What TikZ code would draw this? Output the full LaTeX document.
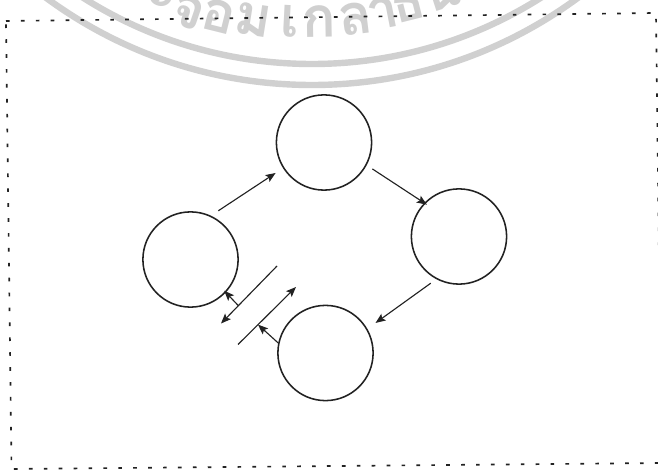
\documentclass[tikz,border=0pt]{standalone}
\usepackage{fontspec}
\usetikzlibrary{arrows.meta, calc}
\newfontfamily\thaifont[Script=Thai]{Loma}
\definecolor{inkgray}{HTML}{222222}
\definecolor{wmgray}{HTML}{D0D0D0}

\begin{document}
\begin{tikzpicture}[x=0.025cm, y=-0.025cm,
  stage/.style={circle, draw=inkgray, line width=1.1pt, minimum size=2.38cm, inner sep=0pt},
  flow/.style={-{Stealth[length=2.5mm, width=2mm, inset=0.5mm]}, draw=inkgray, line width=0.8pt},
  frame/.style={draw=inkgray, line width=1.2pt, dash pattern=on 2.6pt off 8pt},
  wmark/.style={text=wmgray, font=\thaifont\bfseries\fontsize{40}{40}\selectfont, inner sep=0pt, anchor=base},
  wmring/.style={draw=wmgray, line width=1.6mm}]
  \useasboundingbox (0,0) rectangle (658,472);
  \clip (0,0) rectangle (658,472);
  \fill[white] (0,0) rectangle (658,472);

  % --- Watermark (seal arcs and lettering) ---
  \coordinate (wm) at (312,-364);
  \draw[wmring] (wm) circle[radius=449];
  \draw[wmring] (wm) circle[radius=428];
  \foreach \g/\x/\y/\r [count=\i] in {ะ/158/8/-22, จ/183/27/-19, อ/215/32/-14,
      ม/251/35/-9, เ/289/37/-3, ก/320/37/1, ล้/358/34/7, า/386/28/11,
      ธ/412/20/14, น/446/9/18}
    \node[wmark, rotate=\r] (wm\i) at (\x,\y) {\g};

  % --- Dotted frame ---
  \draw[frame] (6,21) -- (656,13) -- (661.5,463) -- (11.5,469) -- cycle;

  % --- Four stages ---
  \node[stage] (ntop)    at (324,142.5) {};
  \node[stage] (nright)  at (459,236.5) {};
  \node[stage] (nbottom) at (325.5,353) {};
  \node[stage] (nleft)   at (190.5,259.5) {};

  % --- Cycle arrows ---
  \draw[flow, shorten <=2.2mm, shorten >=2.2mm] (nleft.65) -- (ntop.212);
  \draw[flow, shorten <=1.7mm, shorten >=-0.8mm] (ntop.332) -- (nright.136);
  \draw[flow, shorten <=1.7mm, shorten >=2.5mm] (nright.242) -- (nbottom.30);

  % --- Two-way barrier between left and bottom ---
  \coordinate (a0) at (277,266);
  \coordinate (a1) at (221,323.5);
  \coordinate (b0) at (238,344.5);
  \coordinate (b1) at (296,287);
  \coordinate (a2) at ($(a0)!0.69!(a1)$);
  \coordinate (b2) at ($(b0)!0.345!(b1)$);
  \draw[flow] (a0) -- (a1);
  \draw[flow] (b0) -- (b1);
  \draw[flow, shorten >=-0.6mm] (a2) -- (nleft.317);
  \draw[flow] (nbottom.168) -- (b2);
\end{tikzpicture}
\end{document}
